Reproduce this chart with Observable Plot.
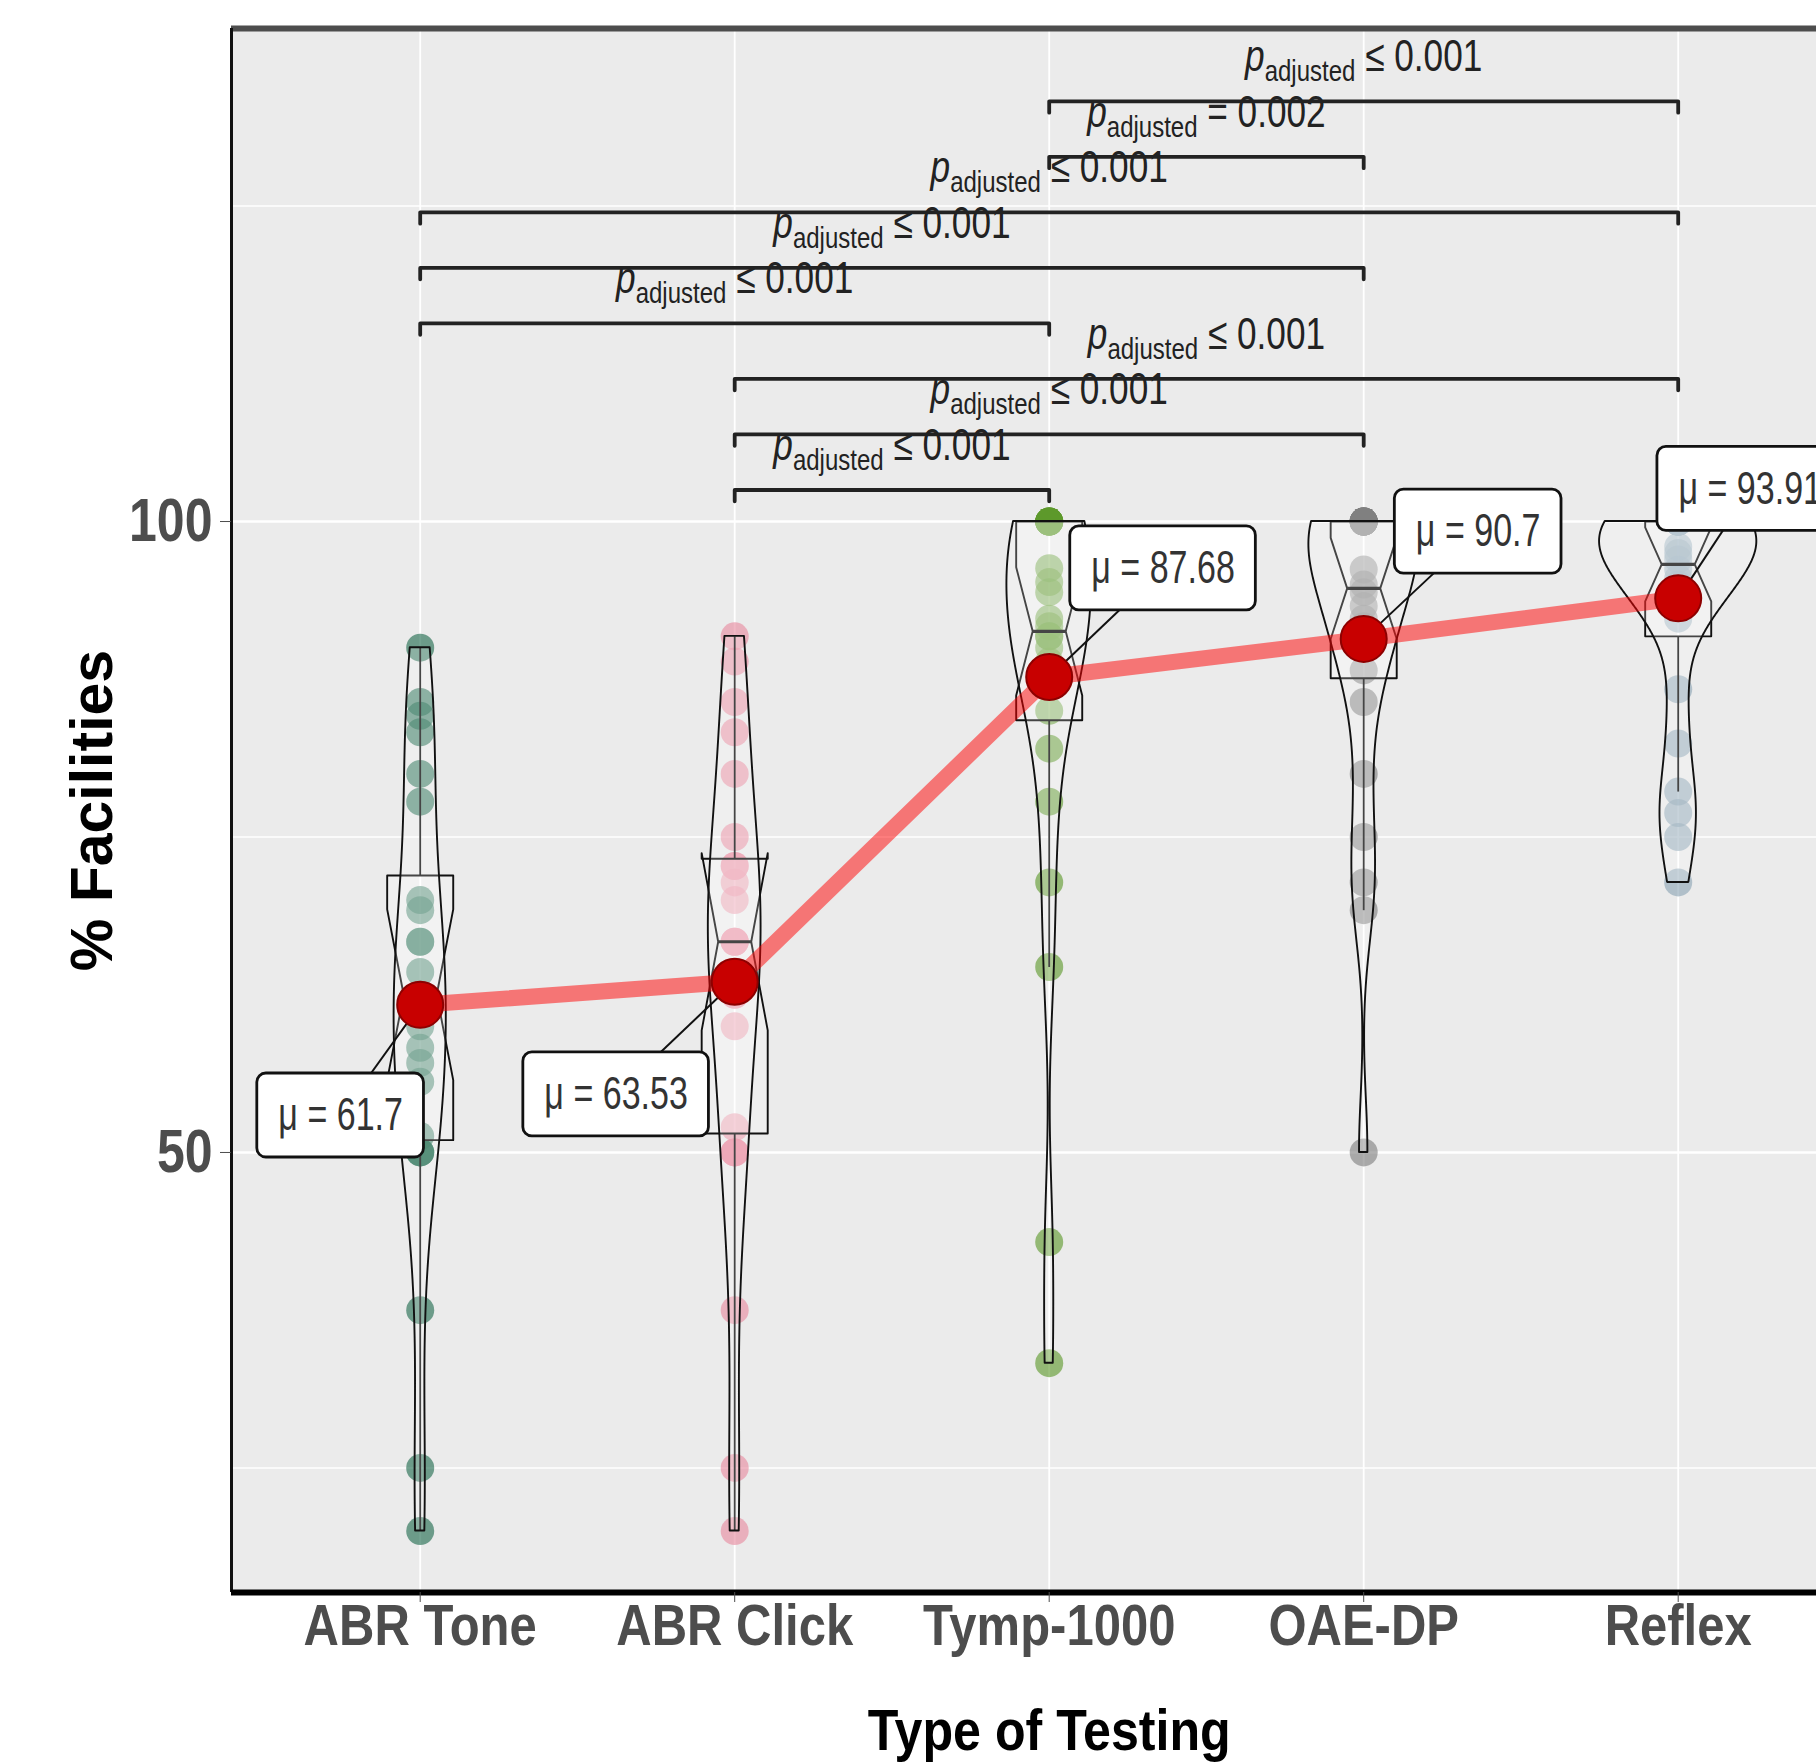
<!DOCTYPE html>
<html><head><meta charset="utf-8">
<script src="https://cdn.jsdelivr.net/npm/d3@7"></script>
<script src="https://cdn.jsdelivr.net/npm/@observablehq/plot@0.6"></script>
<style>
html,body{margin:0;padding:0;background:#fff;overflow:hidden;}
#chart{width:1816px;height:1762px;overflow:hidden;}
</style></head><body><div id="chart"></div>
<script>
// ---------------- data ----------------
const categories = ["ABR Tone", "ABR Click", "Tymp-1000", "OAE-DP", "Reflex"];
const abrTone  = [20, 25, 37.5, 50, 50, 50, 51.3, 55.6, 57.1, 58.3, 60, 62.5, 62.5, 64.3, 66.7, 66.7, 69.2, 70, 77.8, 80, 83.3, 84.6, 85.7, 90];
const abrClick = [20, 25, 37.5, 50, 50, 50, 52, 60, 62.5, 62.5, 64.3, 66.7, 66.7, 66.7, 70, 71.4, 72.7, 72.7, 75, 80, 83.3, 85.7, 88.9, 90.9];
const tymp1000 = [33.3, 42.9, 64.7, 71.4, 77.8, 82, 85, 87.5, 88.9, 90, 90.9, 90.9, 91.7, 92.3, 94.4, 95.2, 96.3, 100, 100, 100, 100, 100, 100, 100];
const oaeDp    = [50, 69.2, 71.4, 75, 80, 85.7, 88.2, 90, 91.7, 92.3, 93.3, 94.4, 95, 96.2, 100, 100, 100, 100, 100, 100, 100, 100, 100, 100];
const reflex   = [71.4, 75, 76.9, 78.6, 82.4, 86.7, 92.3, 93.3, 94.4, 95, 95.5, 96.2, 97, 97.5, 98, 100, 100, 100, 100, 100, 100, 100, 100, 100];
const means    = [61.7, 63.53, 87.68, 90.7, 93.91];
const yTickValues = [50, 100];
const compFrom = ["ABR Click", "ABR Click", "ABR Click", "ABR Tone", "ABR Tone", "ABR Tone", "Tymp-1000", "Tymp-1000"];
const compTo   = ["Tymp-1000", "OAE-DP", "Reflex", "Tymp-1000", "OAE-DP", "Reflex", "OAE-DP", "Reflex"];
const compP    = ["≤ 0.001", "≤ 0.001", "≤ 0.001", "≤ 0.001", "≤ 0.001", "≤ 0.001", "= 0.002", "≤ 0.001"];

// ---------------- styling / layout ----------------
const pointColors = ["#1E6B4E", "#E88AA0", "#5E9A2C", "#808080", "#8CA5B5"];
const W = 1816, H = 1762, ML = 231, MT = 28, MB = 170, MR = 0;
const CAT_PX = 314.5;
const xDomain = [0.4, 0.4 + (W - ML - MR) / CAT_PX];
const yDomain = [15.13, 139.07];
const Y_PX = (H - MT - MB) / (yDomain[1] - yDomain[0]);
const FONT = "'Liberation Sans', Arial, sans-serif";
const SQ_TICKX = 0.86, SQ_TITLE = 0.88, SQ_TICKY = 0.82, SQ_MU = 0.74, SQ_P = 0.8;

// ---------------- stats ----------------
function bwNrd0(s) {
  const sd = d3.deviation(s);
  const iqr = d3.quantile(s, 0.75) - d3.quantile(s, 0.25);
  let lo = Math.min(sd, iqr / 1.34);
  if (!(lo > 0)) lo = sd || 1;
  return 0.9 * lo * Math.pow(s.length, -0.2);
}
const groups = [abrTone, abrClick, tymp1000, oaeDp, reflex];
const stats = groups.map((v, k) => {
  const s = v.slice().sort(d3.ascending);
  const q1 = d3.quantile(s, 0.25), med = d3.quantile(s, 0.5), q3 = d3.quantile(s, 0.75), iqr = q3 - q1;
  const lo = d3.min(s.filter(x => x >= q1 - 1.5 * iqr));
  const hi = d3.max(s.filter(x => x <= q3 + 1.5 * iqr));
  const notch = 1.58 * iqr / Math.sqrt(s.length);
  const bw = bwNrd0(s);
  const grid = d3.range(512).map(j => s[0] + (s[s.length - 1] - s[0]) * j / 511);
  const dens = grid.map(t => d3.mean(s, x => Math.exp(-0.5 * ((t - x) / bw) ** 2)) / (bw * Math.sqrt(2 * Math.PI)));
  return {i: k + 1, s, q1, med, q3, lo, hi, nl: med - notch, nu: med + notch, grid, dens};
});
const dMax = d3.max(stats, st => d3.max(st.dens));

const pointRows = stats.flatMap(st => st.s.map(v => ({i: st.i, v})));
const violinRows = stats.flatMap(st => st.grid.map((t, j) => {
  const w = 0.25 * st.dens[j] / dMax;
  return {g: st.i, y: t, x1: st.i - w, x2: st.i + w};
}));
const BOXW = 0.21, IND = (1 - 0.5) * BOXW / 2;
const boxRows = stats.flatMap(st => {
  const a = st.i - BOXW / 2, b = st.i + BOXW / 2;
  return [[a, st.q3], [a, st.nu], [a + IND, st.med], [a, st.nl], [a, st.q1],
          [b, st.q1], [b, st.nl], [b - IND, st.med], [b, st.nu], [b, st.q3], [a, st.q3]]
    .map(([x, y]) => ({g: st.i, x, y}));
});

const meanRows = means.map((m, k) => ({i: k + 1, m, label: "μ = " + m}));
// label placement (repelled positions), offsets from each mean in category / value units
const labelOffsets = [[-0.253, -8.77], [-0.377, -8.93], [0.362, 8.6], [0.364, 8.5], [0.229, 8.67]];
const LABEL_FS = 46;
const mctx = document.createElement("canvas").getContext("2d");
mctx.font = `${LABEL_FS}px ${FONT}`;
const labelRows = meanRows.map((d, k) => {
  const cx = d.i + labelOffsets[k][0], cy = d.m + labelOffsets[k][1];
  const wpx = mctx.measureText(d.label).width * SQ_MU + 42, hpx = 84;
  return {...d, cx, cy, x1: cx - wpx / 2 / CAT_PX, x2: cx + wpx / 2 / CAT_PX, y1: cy - hpx / 2 / Y_PX, y2: cy + hpx / 2 / Y_PX};
});

const LVL0 = 102.5, LVL_STEP = 4.4, TIP = 0.9;
const compRows = compFrom.map((f, k) => {
  const a = categories.indexOf(f) + 1, b = categories.indexOf(compTo[k]) + 1;
  return {k, a, b, lvl: LVL0 + k * LVL_STEP, mid: (a + b) / 2, text: "p|adjusted|" + compP[k]};
});
const bracketRows = compRows.flatMap(c => [
  {k: c.k, x: c.a, y: c.lvl - TIP}, {k: c.k, x: c.a, y: c.lvl},
  {k: c.k, x: c.b, y: c.lvl}, {k: c.k, x: c.b, y: c.lvl - TIP}]);

// ---------------- marks ----------------
const marks = [
  Plot.frame({fill: "#EBEBEB", stroke: null}),
  Plot.gridY([25, 75, 125], {stroke: "white", strokeOpacity: 1, strokeWidth: 1.4}),
  Plot.gridY(yTickValues, {stroke: "white", strokeOpacity: 1, strokeWidth: 2.6}),
  Plot.gridX([1, 2, 3, 4, 5], {stroke: "white", strokeOpacity: 1, strokeWidth: 1.8}),
];
stats.forEach((st, k) => {
  marks.push(Plot.dot(pointRows.filter(d => d.i === st.i), {x: "i", y: "v", r: 14, fill: pointColors[k], fillOpacity: 0.62, stroke: null}));
});
marks.push(
  Plot.link(stats, {x1: "i", x2: "i", y1: "q3", y2: "hi", stroke: "#111", strokeWidth: 1.8}),
  Plot.link(stats, {x1: "i", x2: "i", y1: "q1", y2: "lo", stroke: "#111", strokeWidth: 1.8}),
  Plot.line(boxRows, {x: "x", y: "y", z: "g", fill: "white", fillOpacity: 0.22, stroke: "#111", strokeWidth: 1.9, curve: "linear"}),
  Plot.link(stats, {x1: d => d.i - BOXW / 2 + IND, x2: d => d.i + BOXW / 2 - IND, y1: "med", y2: "med", stroke: "#111", strokeWidth: 3.2}),
  Plot.areaX(violinRows, {y: "y", x1: "x1", x2: "x2", z: "g", fill: "white", fillOpacity: 0.22, stroke: "#111", strokeWidth: 1.9, curve: "linear"}),
  Plot.line(meanRows, {x: "i", y: "m", stroke: "#FF0000", strokeOpacity: 0.5, strokeWidth: 16}),
  Plot.link(labelRows, {x1: "i", y1: "m", x2: "cx", y2: "cy", stroke: "#111", strokeWidth: 2}),
  Plot.dot(meanRows, {x: "i", y: "m", r: 23, fill: "#C80000", stroke: "#8E0000", strokeWidth: 2}),
  Plot.rect(labelRows, {x1: "x1", x2: "x2", y1: "y1", y2: "y2", fill: "white", stroke: "#111", strokeWidth: 2.8, rx: 9}),
  Plot.text(labelRows, {x: "cx", y: "cy", text: "label", fontSize: LABEL_FS, fontFamily: FONT, fill: "#333"}),
  Plot.line(bracketRows, {x: "x", y: "y", z: "k", stroke: "#222", strokeWidth: 3.8}),
  Plot.text(compRows, {x: "mid", y: "lvl", text: "text", dy: -30, lineAnchor: "bottom", fontSize: 44, fontFamily: FONT, fill: "#222"}),
  // panel borders
  Plot.ruleY([yDomain[1]], {stroke: "#4d4d4d", strokeWidth: 6}),
  Plot.ruleX([xDomain[0]], {stroke: "#111", strokeWidth: 3}),
  Plot.ruleY([yDomain[0]], {stroke: "#000", strokeWidth: 6}),
  // axes
  Plot.axisX({ticks: [1, 2, 3, 4, 5], tickFormat: i => categories[i - 1], tickSize: 10, tickPadding: 2,
    fontSize: 57, fontWeight: "bold", fontFamily: FONT, color: "#4D4D4D", label: null}),
  Plot.axisY({ticks: yTickValues, tickSize: 11, tickPadding: 8, fontSize: 61, fontWeight: "bold",
    fontFamily: FONT, color: "#4D4D4D", label: null}),
  Plot.text(["Type of Testing"], {x: 3, frameAnchor: "bottom", dy: 157, lineAnchor: "bottom", fontSize: 57,
    fontWeight: "bold", fontFamily: FONT, fill: "#000"}),
  Plot.text(["% Facilities"], {frameAnchor: "left", dx: -138, rotate: -90, textAnchor: "middle", fontSize: 59,
    fontWeight: "bold", fontFamily: FONT, fill: "#000"})
);

const chart = Plot.plot({
  width: W, height: H,
  marginLeft: ML, marginRight: MR, marginTop: MT, marginBottom: MB,
  x: {type: "linear", domain: xDomain},
  y: {type: "linear", domain: yDomain},
  style: {background: "white", overflow: "hidden", fontFamily: FONT},
  marks
});

// plotmath-like label: italic p, subscript "adjusted", then the value; and horizontal condensing of text
const NS = "http://www.w3.org/2000/svg";
function squeeze(t, s) {
  const tr = t.getAttribute("transform") || "";
  const x = t.getAttribute("x");
  if (x !== null && x !== "" && !isNaN(+x)) {
    t.setAttribute("transform", `${tr} translate(${x},0) scale(${s},1)`);
    t.setAttribute("x", 0);
  } else {
    t.setAttribute("transform", `${tr} scale(${s},1)`);
  }
}
chart.querySelectorAll("text").forEach(t => {
  const s = t.textContent;
  const tr = t.getAttribute("transform") || "";
  if (tr.includes("rotate")) return;
  if (s.includes("|")) {
    const [a, b, c] = s.split("|");
    t.textContent = "";
    const t1 = document.createElementNS(NS, "tspan"); t1.textContent = a; t1.setAttribute("font-style", "italic");
    const t2 = document.createElementNS(NS, "tspan"); t2.textContent = b; t2.setAttribute("font-size", "30"); t2.setAttribute("dy", "10");
    const t3 = document.createElementNS(NS, "tspan"); t3.textContent = " " + c; t3.setAttribute("dy", "-10");
    t.append(t1, t2, t3);
    squeeze(t, SQ_P);
  } else if (s.startsWith("μ")) squeeze(t, SQ_MU);
  else if (categories.includes(s)) squeeze(t, SQ_TICKX);
  else if (s === "Type of Testing") squeeze(t, SQ_TITLE);
  else if (yTickValues.map(String).includes(s)) squeeze(t, SQ_TICKY);
});
document.getElementById("chart").append(chart);
</script></body></html>
